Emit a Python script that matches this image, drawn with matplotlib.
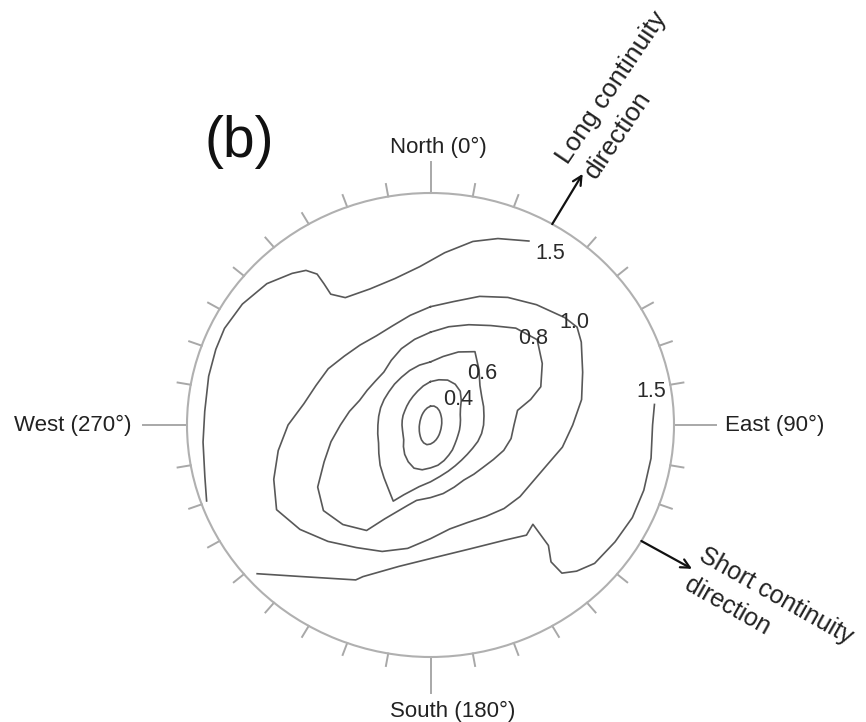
import numpy as np
import matplotlib
matplotlib.use("Agg")
import matplotlib.pyplot as plt

plt.rcParams['font.family'] = ['Liberation Sans', 'DejaVu Sans']

# ---------------- data: lag (fraction of max lag) at which the variogram
# reaches each contour level, read per azimuth (degrees clockwise from North)
az10 = [0, 10, 20, 30, 40, 50, 60, 70, 80, 90, 100, 110, 120, 130, 140, 150, 160, 170,
        180, 190, 200, 210, 220, 230, 240, 250, 260, 270, 280, 290, 300, 310, 320, 330, 340, 350]

lag_02 = [.081, .083, .079, .072, .064, .0575, .053, .049, .047, .0455, .045, .046,
          .0475, .0505, .055, .0605, .0675, .075, .082, .086, .082, .074, .065, .058,
          .053, .049, .047, .0455, .045, .046, .0475, .0505, .055, .0605, .0675, .075]

lag_04 = [.187, .198, .206, .203, .19, .165, .142, .13, .125, .122, .121, .121,
          .124, .13, .14, .15, .163, .176, .185, .196, .198, .183, .165, .145,
          .127, .12, .117, .117, .118, .12, .122, .127, .134, .143, .155, .171]

az_06 = [0, 10, 20, 30, 40, 50, 60, 70, 80, 90, 100, 110, 120, 130, 140, 150, 160, 170,
         180, 190, 200, 205, 210, 220, 230, 240, 250, 260, 270, 280, 290, 300, 310, 320, 330, 340, 350]
lag_06 = [.272, .30, .335, .365, .31, .265, .243, .232, .223, .218, .213, .207,
          .20, .197, .198, .203, .212, .225, .245, .27, .32, .362, .335, .297, .27,
          .245, .227, .22, .216, .216, .218, .22, .223, .23, .238, .25, .262]

az_08 = [0, 10, 20, 30, 40, 50, 60, 70, 75, 80, 90, 100, 110, 120, 130, 140, 150, 160, 170,
         180, 190, 195, 200, 205, 210, 220, 230, 240, 250, 260, 270, 280, 290, 300, 310, 320, 330, 340, 350]
lag_08 = [.40, .43, .46, .495, .545, .572, .53, .482, .426, .363, .343, .336, .32,
          .298, .283, .277, .274, .285, .30, .313, .33, .358, .396, .447, .525, .56, .574,
          .535, .465, .415, .37, .338, .31, .30, .295, .298, .322, .35, .375]

az_10 = [0, 10, 20, 30, 40, 50, 55, 60, 70, 80, 90, 100, 110, 120, 130, 140, 150, 160, 170,
         180, 190, 200, 210, 220, 230, 240, 250, 260, 270, 280, 290, 300, 310, 320, 330, 340, 350]
lag_10 = [.51, .54, .59, .635, .677, .72, .735, .715, .665, .63, .584, .55, .508,
          .486, .48, .47, .455, .447, .455, .49, .54, .58, .61, .655, .70, .73, .685,
          .635, .585, .528, .50, .485, .462, .45, .444, .455, .48]

# level 1.5 is open: two branches ending at the edge of the map
az_15a = [27, 19, 12.4, 4.5, -3.7, -13, -23, -32.5, -36, -35.7, -35.6, -37.5, -41, -47.8,
          -56, -63.8, -69.7, -77, -86.4, -94.5, -103.5, -109.6]
lag_15a = [.89, .85, .81, .745, .684, .648, .637, .651, .697, .75, .80, .84, .866, .907,
           .932, .943, .94, .935, .929, .937, .953, .976]
az_15b = [228, 219.6, 204.7, 203, 192, 178.5, 163.3, 148, 140.3, 135.5, 137, 140, 139.8,
          136.4, 131.5, 123.6, 115.7, 107.8, 99, 90, 84.5]
lag_15b = [.958, .847, .735, .71, .623, .572, .558, .584, .617, .60, .71, .77, .836,
           .87, .90, .91, .92, .92, .917, .912, .924]

levels = ["0.4", "0.6", "0.8", "1.0", "1.5", "1.5"]

# ---------------- figure
W, H = 866, 722
fig = plt.figure(figsize=(W / 100, H / 100), dpi=100)
cx, cy, rx, ry = 430.5, 425, 243.5, 232
ax = fig.add_axes([(cx - rx) / W, (H - cy - ry) / H, 2 * rx / W, 2 * ry / H],
                  projection='polar')
ax.set_aspect('auto')
ax.set_theta_zero_location('N')
ax.set_theta_direction(-1)
ax.set_ylim(0, 1)
ax.set_xticks([])
ax.set_yticks([])
ax.grid(False)
ax.spines['polar'].set_color('#b0b0b0')
ax.spines['polar'].set_linewidth(1.5)

line_kw = dict(color='#585858', lw=1.2, solid_joinstyle='round')


def closed(az, lag):
    t = np.deg2rad(np.append(az, az[0]))
    r = np.append(lag, lag[0])
    return t, r


for az, lag in [(az10, lag_02), (az10, lag_04), (az_06, lag_06),
                (az_08, lag_08), (az_10, lag_10)]:
    t, r = closed(az, lag)
    ax.plot(t, r, **line_kw)

ax.plot(np.deg2rad(az_15a), lag_15a, **line_kw)
ax.plot(np.deg2rad(az_15b), lag_15b, **line_kw)

# contour labels
label_pos = [(46.8, .158), (44, .307), (48.5, .56), (53.3, .737), (33.7, .89), (81, .916)]
for txt, (a, r) in zip(levels, label_pos):
    ax.text(np.deg2rad(a), r, txt, ha='center', va='center', fontsize=15.5,
            color='#2a2a2a', zorder=5)

# azimuth ticks
tick_col = '#a8a8a8'
major_len = {0: 31, 90: 42, 180: 36, 270: 44}
for d in range(0, 360, 10):
    if d in (30, 120):
        continue
    L = major_len.get(d, 13)
    R = rx if d in (90, 270) else (ry if d in (0, 180) else 238)
    th = np.deg2rad(d)
    ax.plot([th, th], [1, 1 + L / R], color=tick_col, lw=1.4, clip_on=False)

# continuity arrows
for d, r1 in [(30, 1.25), (120, 1.24)]:
    th = np.deg2rad(d)
    ax.annotate('', xy=(th, r1), xytext=(th, 1.0), annotation_clip=False,
                arrowprops=dict(arrowstyle='->', color='#111111', lw=1.6,
                                shrinkA=0, shrinkB=0, mutation_scale=16))


def ftext(x, y, s, **kw):
    fig.text(x / W, 1 - y / H, s, **kw)


fs = 16
ftext(438.5, 147, 'North (0°)', ha='center', va='center', fontsize=fs, color='#222222')
ftext(452.5, 711, 'South (180°)', ha='center', va='center', fontsize=fs, color='#222222')
ftext(132, 425, 'West (270°)', ha='right', va='center', fontsize=fs, color='#222222')
ftext(725, 425, 'East (90°)', ha='left', va='center', fontsize=fs, color='#222222')
ftext(204, 142, '(b)', ha='left', va='center', fontsize=41, color='#111111')

ftext(568, 165, 'Long continuity', ha='left', va='baseline', rotation=56,
      rotation_mode='anchor', fontsize=19, color='#222222')
ftext(596, 180, 'direction', ha='left', va='baseline', rotation=56,
      rotation_mode='anchor', fontsize=19, color='#222222')
ftext(697, 560, 'Short continuity', ha='left', va='baseline', rotation=-29.5,
      rotation_mode='anchor', fontsize=18, color='#222222')
ftext(683, 589, 'direction', ha='left', va='baseline', rotation=-29.5,
      rotation_mode='anchor', fontsize=18, color='#222222')

fig.savefig('out.png', dpi=100, facecolor='white')
